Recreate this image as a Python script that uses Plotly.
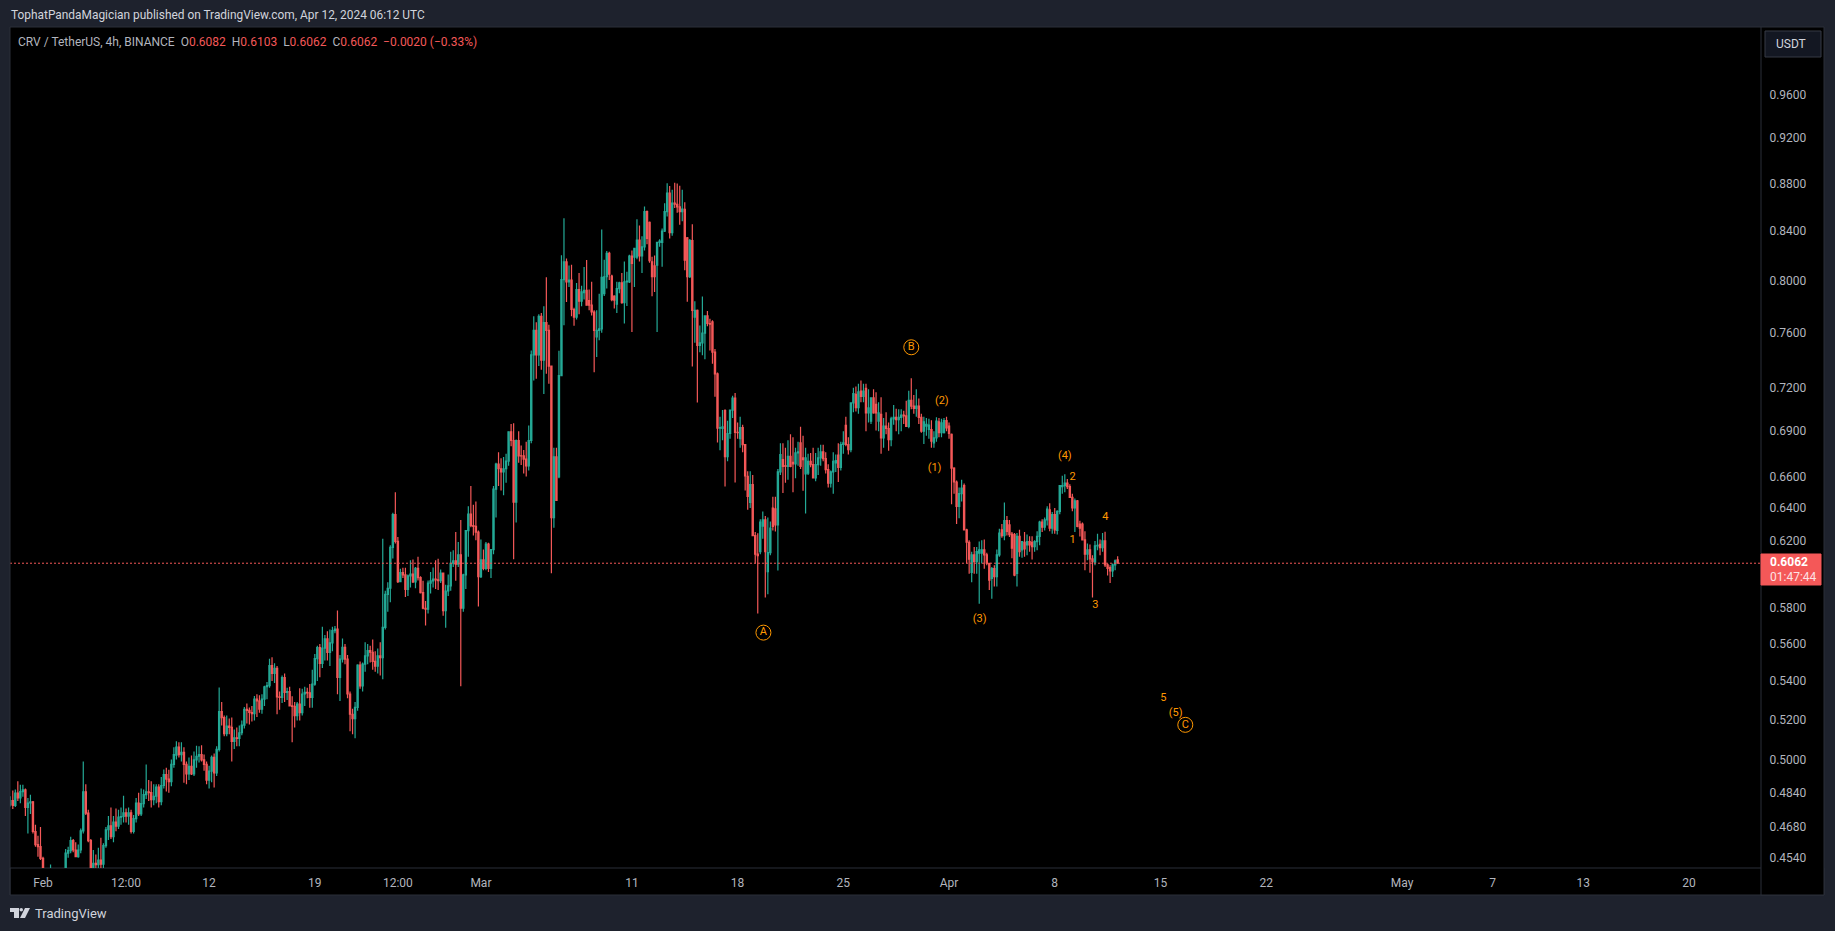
"""
CRV / USDT 4h candles with wave counts, TradingView dark look
"""
import pandas as pd
import plotly.graph_objects as go

# 4h candles, first one is 2024-01-29 20:00
opens = [
    0.4785, 0.4802, 0.4780, 0.4838, 0.4815, 0.4845, 0.4853, 0.4771, 0.4791, 0.4796,
    0.4659, 0.4599, 0.4590, 0.4538, 0.4470, 0.4445, 0.4455, 0.4475, 0.4460, 0.4465,
    0.4480, 0.4470, 0.4475, 0.4561, 0.4572, 0.4617, 0.4575, 0.4545, 0.4575, 0.4662,
    0.4844, 0.4744, 0.4617, 0.4480, 0.4516, 0.4510, 0.4530, 0.4512, 0.4595, 0.4667,
    0.4685, 0.4636, 0.4702, 0.4683, 0.4725, 0.4728, 0.4745, 0.4730, 0.4745, 0.4659,
    0.4718, 0.4791, 0.4740, 0.4788, 0.4831, 0.4844, 0.4840, 0.4807, 0.4823, 0.4867,
    0.4797, 0.4874, 0.4927, 0.4905, 0.4892, 0.4976, 0.5021, 0.5061, 0.5024, 0.5035,
    0.4976, 0.4930, 0.4966, 0.4930, 0.4998, 0.5016, 0.5024, 0.4998, 0.4976, 0.4900,
    0.4943, 0.5011, 0.4935, 0.5050, 0.5241, 0.5210, 0.5128, 0.5167, 0.5160, 0.5090,
    0.5108, 0.5105, 0.5133, 0.5172, 0.5252, 0.5247, 0.5236, 0.5230, 0.5305, 0.5296,
    0.5253, 0.5305, 0.5370, 0.5376, 0.5482, 0.5441, 0.5468, 0.5317, 0.5314, 0.5419,
    0.5340, 0.5345, 0.5270, 0.5268, 0.5220, 0.5279, 0.5235, 0.5332, 0.5340, 0.5338,
    0.5314, 0.5384, 0.5520, 0.5581, 0.5495, 0.5578, 0.5628, 0.5554, 0.5606, 0.5674,
    0.5683, 0.5419, 0.5518, 0.5582, 0.5518, 0.5332, 0.5227, 0.5205, 0.5262, 0.5485,
    0.5375, 0.5491, 0.5535, 0.5564, 0.5555, 0.5505, 0.5480, 0.5535, 0.5525, 0.5692,
    0.5880, 0.5915, 0.6157, 0.6358, 0.6193, 0.5954, 0.6007, 0.5993, 0.5909, 0.5987,
    0.5997, 0.5952, 0.6032, 0.5977, 0.5890, 0.5800, 0.5795, 0.5945, 0.5958, 0.5968,
    0.5964, 0.5960, 0.6003, 0.5787, 0.5899, 0.5929, 0.6062, 0.6076, 0.6056, 0.6112,
    0.5800, 0.5993, 0.6259, 0.6362, 0.6290, 0.6285, 0.6250, 0.5982, 0.6082, 0.6032,
    0.6177, 0.6032, 0.6143, 0.6519, 0.6681, 0.6651, 0.6630, 0.6651, 0.6701, 0.6897,
    0.6838, 0.6437, 0.6838, 0.6736, 0.6735, 0.6714, 0.6670, 0.6838, 0.7438, 0.7618,
    0.7438, 0.7724, 0.7398, 0.7676, 0.7618, 0.7356, 0.6340, 0.6729, 0.6598, 0.7288,
    0.8008, 0.8148, 0.7990, 0.8003, 0.7776, 0.7718, 0.7929, 0.7840, 0.7905, 0.7924,
    0.7845, 0.7809, 0.7757, 0.7570, 0.7618, 0.7630, 0.7898, 0.8030, 0.8216, 0.8035,
    0.7878, 0.7816, 0.7937, 0.7982, 0.7829, 0.7990, 0.7990, 0.8195, 0.8185, 0.8185,
    0.8324, 0.8195, 0.8269, 0.8560, 0.8470, 0.8148, 0.8117, 0.8122, 0.8306, 0.8306,
    0.8398, 0.8560, 0.8716, 0.8385, 0.8631, 0.8622, 0.8600, 0.8560, 0.8580, 0.8343,
    0.8030, 0.8320, 0.7718, 0.7770, 0.7506, 0.7526, 0.7598, 0.7727, 0.7670, 0.7683,
    0.7457, 0.7300, 0.6922, 0.6920, 0.7041, 0.6730, 0.6885, 0.7045, 0.7128, 0.6892,
    0.6850, 0.6925, 0.6810, 0.6601, 0.6435, 0.6548, 0.6229, 0.6116, 0.6132, 0.6287,
    0.6325, 0.6012, 0.6125, 0.6399, 0.6395, 0.6295, 0.6630, 0.6711, 0.6671, 0.6667,
    0.6733, 0.6693, 0.6682, 0.6755, 0.6822, 0.6722, 0.6617, 0.6623, 0.6700, 0.6678,
    0.6591, 0.6678, 0.6722, 0.6762, 0.6718, 0.6645, 0.6558, 0.6630, 0.6690, 0.6740,
    0.6660, 0.6811, 0.6940, 0.6811, 0.6777, 0.7095, 0.7155, 0.7062, 0.7178, 0.7141,
    0.7197, 0.7026, 0.6969, 0.7131, 0.7085, 0.6969, 0.7015, 0.6856, 0.6935, 0.6919,
    0.6844, 0.6985, 0.6995, 0.6980, 0.6995, 0.7010, 0.7005, 0.6934, 0.7112, 0.7073,
    0.7056, 0.7073, 0.6995, 0.6901, 0.6935, 0.6912, 0.6912, 0.6822, 0.6855, 0.6965,
    0.6890, 0.6890, 0.6973, 0.6935, 0.6879, 0.6655, 0.6565, 0.6410, 0.6490, 0.6542,
    0.6264, 0.6188, 0.6008, 0.6112, 0.6072, 0.6122, 0.6122, 0.6142, 0.6112, 0.6062,
    0.5972, 0.6030, 0.5982, 0.6112, 0.6264, 0.6229, 0.6321, 0.6294, 0.6238, 0.6234,
    0.6002, 0.6224, 0.6142, 0.6188, 0.6172, 0.6192, 0.6188, 0.6162, 0.6192, 0.6224,
    0.6311, 0.6280, 0.6325, 0.6388, 0.6274, 0.6358, 0.6260, 0.6378, 0.6535, 0.6542,
    0.6558, 0.6535, 0.6467, 0.6400, 0.6445, 0.6300, 0.6300, 0.6202, 0.6116, 0.6142,
    0.6088, 0.6068, 0.6166, 0.6176, 0.6156, 0.6196, 0.6052, 0.6036, 0.6016, 0.6052,
    0.6082,
]
highs = [
    0.4823, 0.4850, 0.4855, 0.4895, 0.4878, 0.4878, 0.4860, 0.4815, 0.4830, 0.4800,
    0.4690, 0.4640, 0.4680, 0.4545, 0.4480, 0.4470, 0.4510, 0.4488, 0.4480, 0.4495,
    0.4495, 0.4485, 0.4580, 0.4590, 0.4635, 0.4625, 0.4610, 0.4600, 0.4673, 0.4990,
    0.4880, 0.4760, 0.4625, 0.4575, 0.4555, 0.4585, 0.4630, 0.4605, 0.4680, 0.4730,
    0.4770, 0.4730, 0.4765, 0.4760, 0.4770, 0.4825, 0.4765, 0.4770, 0.4760, 0.4735,
    0.4815, 0.4840, 0.4860, 0.4855, 0.4975, 0.4900, 0.4895, 0.4880, 0.4880, 0.4880,
    0.4915, 0.4951, 0.4960, 0.4950, 0.5000, 0.5060, 0.5090, 0.5085, 0.5085, 0.5060,
    0.4990, 0.5010, 0.5020, 0.5040, 0.5068, 0.5065, 0.5070, 0.5025, 0.4990, 0.4970,
    0.5020, 0.5030, 0.5065, 0.5366, 0.5290, 0.5220, 0.5220, 0.5205, 0.5210, 0.5150,
    0.5160, 0.5170, 0.5195, 0.5265, 0.5282, 0.5262, 0.5270, 0.5322, 0.5330, 0.5325,
    0.5330, 0.5375, 0.5395, 0.5520, 0.5528, 0.5495, 0.5480, 0.5345, 0.5430, 0.5440,
    0.5365, 0.5370, 0.5320, 0.5290, 0.5290, 0.5362, 0.5360, 0.5370, 0.5365, 0.5385,
    0.5460, 0.5545, 0.5590, 0.5600, 0.5695, 0.5650, 0.5670, 0.5680, 0.5695, 0.5700,
    0.5787, 0.5540, 0.5630, 0.5600, 0.5540, 0.5345, 0.5255, 0.5290, 0.5490, 0.5505,
    0.5500, 0.5610, 0.5600, 0.5590, 0.5625, 0.5560, 0.5575, 0.5610, 0.6210, 0.5900,
    0.5950, 0.6170, 0.6370, 0.6500, 0.6220, 0.6030, 0.6035, 0.6035, 0.5995, 0.6080,
    0.6085, 0.6040, 0.6100, 0.5985, 0.5958, 0.5842, 0.5960, 0.6010, 0.6036, 0.6080,
    0.6088, 0.6025, 0.6000, 0.5935, 0.5995, 0.6130, 0.6140, 0.6250, 0.6190, 0.6325,
    0.6000, 0.6260, 0.6410, 0.6540, 0.6420, 0.6440, 0.6260, 0.6205, 0.6145, 0.6190,
    0.6185, 0.6145, 0.6540, 0.6690, 0.6760, 0.6720, 0.6728, 0.6750, 0.6897, 0.6950,
    0.6955, 0.6845, 0.6900, 0.6805, 0.6775, 0.6830, 0.6940, 0.7470, 0.7724, 0.7680,
    0.7740, 0.7750, 0.7800, 0.8025, 0.7660, 0.7356, 0.6790, 0.6790, 0.7467, 0.8202,
    0.8504, 0.8175, 0.8120, 0.8125, 0.7790, 0.7980, 0.8060, 0.7960, 0.8108, 0.8162,
    0.7930, 0.7990, 0.7770, 0.7770, 0.7898, 0.8412, 0.8165, 0.8235, 0.8230, 0.8045,
    0.7885, 0.7990, 0.7990, 0.8060, 0.8150, 0.8070, 0.8205, 0.8240, 0.8256, 0.8496,
    0.8445, 0.8355, 0.8602, 0.8570, 0.8478, 0.8190, 0.8200, 0.8310, 0.8330, 0.8420,
    0.8630, 0.8802, 0.8778, 0.8745, 0.8805, 0.8800, 0.8780, 0.8745, 0.8640, 0.8350,
    0.8333, 0.8455, 0.7840, 0.7775, 0.7655, 0.7876, 0.7730, 0.7765, 0.7705, 0.7695,
    0.7480, 0.7310, 0.6999, 0.7045, 0.7050, 0.6972, 0.7045, 0.7145, 0.7165, 0.6960,
    0.7000, 0.6945, 0.6815, 0.6634, 0.6634, 0.6610, 0.6250, 0.6243, 0.6330, 0.6378,
    0.6350, 0.6340, 0.6315, 0.6470, 0.6470, 0.6650, 0.6820, 0.6820, 0.6790, 0.6840,
    0.6880, 0.6860, 0.6790, 0.6830, 0.6930, 0.6870, 0.6790, 0.6750, 0.6755, 0.6790,
    0.6755, 0.6790, 0.6810, 0.6810, 0.6760, 0.6680, 0.6640, 0.6760, 0.6745, 0.6820,
    0.6830, 0.6900, 0.7000, 0.6860, 0.7100, 0.7202, 0.7210, 0.7230, 0.7253, 0.7230,
    0.7230, 0.7190, 0.7125, 0.7190, 0.7170, 0.7100, 0.7135, 0.6990, 0.7030, 0.6960,
    0.7000, 0.7080, 0.7055, 0.7050, 0.7050, 0.7040, 0.7110, 0.7180, 0.7268, 0.7150,
    0.7190, 0.7125, 0.7020, 0.7000, 0.6990, 0.6985, 0.6975, 0.6900, 0.6995, 0.6990,
    0.6985, 0.6990, 0.7000, 0.6960, 0.6885, 0.6660, 0.6575, 0.6530, 0.6580, 0.6555,
    0.6270, 0.6200, 0.6130, 0.6160, 0.6160, 0.6192, 0.6200, 0.6205, 0.6125, 0.6065,
    0.6040, 0.6050, 0.6145, 0.6270, 0.6300, 0.6435, 0.6350, 0.6325, 0.6250, 0.6244,
    0.6245, 0.6265, 0.6190, 0.6250, 0.6235, 0.6225, 0.6225, 0.6200, 0.6255, 0.6320,
    0.6330, 0.6340, 0.6410, 0.6430, 0.6375, 0.6400, 0.6385, 0.6545, 0.6605, 0.6615,
    0.6585, 0.6550, 0.6490, 0.6460, 0.6450, 0.6320, 0.6310, 0.6255, 0.6180, 0.6175,
    0.6110, 0.6195, 0.6240, 0.6205, 0.6245, 0.6252, 0.6060, 0.6050, 0.6060, 0.6085,
    0.6103,
]
lows = [
    0.4775, 0.4763, 0.4772, 0.4800, 0.4790, 0.4820, 0.4730, 0.4650, 0.4740, 0.4650,
    0.4590, 0.4545, 0.4530, 0.4440, 0.4425, 0.4420, 0.4440, 0.4440, 0.4435, 0.4445,
    0.4450, 0.4440, 0.4465, 0.4540, 0.4560, 0.4565, 0.4545, 0.4540, 0.4560, 0.4650,
    0.4735, 0.4610, 0.4460, 0.4470, 0.4490, 0.4490, 0.4490, 0.4490, 0.4585, 0.4620,
    0.4625, 0.4610, 0.4660, 0.4670, 0.4690, 0.4700, 0.4700, 0.4690, 0.4650, 0.4650,
    0.4700, 0.4730, 0.4730, 0.4770, 0.4810, 0.4800, 0.4770, 0.4780, 0.4790, 0.4770,
    0.4780, 0.4860, 0.4845, 0.4840, 0.4870, 0.4960, 0.5000, 0.5010, 0.4990, 0.4887,
    0.4880, 0.4900, 0.4925, 0.4920, 0.4960, 0.4985, 0.4990, 0.4945, 0.4880, 0.4860,
    0.4890, 0.4865, 0.4920, 0.5040, 0.5170, 0.5115, 0.5115, 0.5125, 0.4990, 0.5052,
    0.5065, 0.5065, 0.5120, 0.5155, 0.5180, 0.5175, 0.5190, 0.5195, 0.5213, 0.5235,
    0.5230, 0.5270, 0.5305, 0.5365, 0.5400, 0.5390, 0.5227, 0.5250, 0.5285, 0.5290,
    0.5300, 0.5270, 0.5085, 0.5160, 0.5195, 0.5195, 0.5220, 0.5270, 0.5310, 0.5260,
    0.5260, 0.5375, 0.5400, 0.5420, 0.5470, 0.5510, 0.5510, 0.5480, 0.5560, 0.5660,
    0.5330, 0.5296, 0.5500, 0.5490, 0.5310, 0.5140, 0.5125, 0.5105, 0.5245, 0.5360,
    0.5345, 0.5450, 0.5490, 0.5500, 0.5460, 0.5450, 0.5440, 0.5430, 0.5410, 0.5680,
    0.5780, 0.5835, 0.6090, 0.6180, 0.5945, 0.5950, 0.5975, 0.5865, 0.5870, 0.5920,
    0.5945, 0.5915, 0.5960, 0.5885, 0.5795, 0.5702, 0.5770, 0.5885, 0.5920, 0.5910,
    0.5905, 0.5945, 0.5758, 0.5690, 0.5870, 0.5900, 0.6040, 0.5958, 0.6040, 0.5372,
    0.5780, 0.5910, 0.6100, 0.6280, 0.6230, 0.6200, 0.5810, 0.5975, 0.6020, 0.6020,
    0.6010, 0.5975, 0.6115, 0.6340, 0.6540, 0.6510, 0.6480, 0.6560, 0.6670, 0.6800,
    0.6086, 0.6309, 0.6690, 0.6675, 0.6620, 0.6600, 0.6640, 0.6820, 0.7252, 0.7265,
    0.7356, 0.7330, 0.7157, 0.7300, 0.7229, 0.6003, 0.6277, 0.6445, 0.6590, 0.7656,
    0.7656, 0.7834, 0.7950, 0.7724, 0.7652, 0.7700, 0.7740, 0.7800, 0.7852, 0.7810,
    0.7770, 0.7730, 0.7312, 0.7421, 0.7545, 0.7600, 0.7880, 0.7937, 0.8004, 0.7840,
    0.7783, 0.7750, 0.7900, 0.7820, 0.7670, 0.7802, 0.7980, 0.7606, 0.7950, 0.8170,
    0.8150, 0.8060, 0.8240, 0.8290, 0.8140, 0.7878, 0.7911, 0.7606, 0.8270, 0.8110,
    0.8390, 0.8520, 0.8338, 0.8360, 0.8590, 0.8550, 0.8450, 0.8480, 0.8082, 0.7835,
    0.8020, 0.7353, 0.7526, 0.7097, 0.7457, 0.7435, 0.7405, 0.7650, 0.7470, 0.7372,
    0.7138, 0.6825, 0.6772, 0.6840, 0.6536, 0.6700, 0.6850, 0.6990, 0.6562, 0.6850,
    0.6790, 0.6760, 0.6510, 0.6388, 0.6400, 0.6229, 0.6060, 0.5770, 0.6115, 0.6210,
    0.5862, 0.5880, 0.6110, 0.6260, 0.6253, 0.6019, 0.6610, 0.6494, 0.6560, 0.6580,
    0.6660, 0.6500, 0.6590, 0.6670, 0.6650, 0.6509, 0.6365, 0.6610, 0.6660, 0.6590,
    0.6570, 0.6610, 0.6670, 0.6700, 0.6620, 0.6530, 0.6530, 0.6490, 0.6630, 0.6565,
    0.6640, 0.6750, 0.6800, 0.6745, 0.6760, 0.7030, 0.7035, 0.7020, 0.7100, 0.7100,
    0.6901, 0.6960, 0.6950, 0.7020, 0.6905, 0.6900, 0.6750, 0.6790, 0.6880, 0.6770,
    0.6800, 0.6945, 0.6900, 0.6880, 0.6900, 0.6950, 0.6960, 0.6920, 0.7050, 0.7020,
    0.7000, 0.6950, 0.6890, 0.6815, 0.6870, 0.6850, 0.6790, 0.6790, 0.6830, 0.6860,
    0.6860, 0.6885, 0.6900, 0.6850, 0.6424, 0.6490, 0.6300, 0.6336, 0.6440, 0.6264,
    0.6060, 0.6000, 0.5950, 0.6000, 0.6000, 0.5826, 0.6060, 0.6030, 0.6050, 0.5905,
    0.5855, 0.5925, 0.5925, 0.6100, 0.6215, 0.6200, 0.6230, 0.6220, 0.6092, 0.5985,
    0.5925, 0.6100, 0.6095, 0.6100, 0.6110, 0.6130, 0.6085, 0.6130, 0.6140, 0.6170,
    0.6250, 0.6260, 0.6290, 0.6255, 0.6240, 0.6240, 0.6235, 0.6360, 0.6490, 0.6500,
    0.6520, 0.6467, 0.6380, 0.6250, 0.6280, 0.6223, 0.6200, 0.6020, 0.6080, 0.6005,
    0.5862, 0.6050, 0.6140, 0.6110, 0.6130, 0.6040, 0.5990, 0.5945, 0.5980, 0.6020,
    0.6062,
]
closes = [
    0.4802, 0.4780, 0.4838, 0.4815, 0.4845, 0.4853, 0.4771, 0.4791, 0.4796, 0.4659,
    0.4599, 0.4590, 0.4538, 0.4470, 0.4445, 0.4455, 0.4475, 0.4460, 0.4465, 0.4480,
    0.4470, 0.4475, 0.4561, 0.4572, 0.4617, 0.4575, 0.4545, 0.4575, 0.4662, 0.4844,
    0.4744, 0.4617, 0.4480, 0.4516, 0.4510, 0.4530, 0.4512, 0.4595, 0.4667, 0.4685,
    0.4636, 0.4702, 0.4683, 0.4725, 0.4728, 0.4745, 0.4730, 0.4745, 0.4659, 0.4718,
    0.4791, 0.4740, 0.4788, 0.4831, 0.4844, 0.4840, 0.4807, 0.4823, 0.4867, 0.4797,
    0.4874, 0.4927, 0.4905, 0.4892, 0.4976, 0.5024, 0.5061, 0.5024, 0.5035, 0.4976,
    0.4930, 0.4966, 0.4930, 0.4998, 0.5016, 0.5024, 0.4998, 0.4976, 0.4900, 0.4943,
    0.5011, 0.4935, 0.5050, 0.5241, 0.5210, 0.5128, 0.5167, 0.5160, 0.5090, 0.5108,
    0.5105, 0.5133, 0.5172, 0.5252, 0.5247, 0.5236, 0.5230, 0.5305, 0.5296, 0.5253,
    0.5305, 0.5370, 0.5376, 0.5482, 0.5441, 0.5468, 0.5317, 0.5314, 0.5419, 0.5340,
    0.5345, 0.5270, 0.5268, 0.5220, 0.5279, 0.5235, 0.5332, 0.5340, 0.5338, 0.5314,
    0.5384, 0.5520, 0.5581, 0.5495, 0.5578, 0.5628, 0.5554, 0.5606, 0.5674, 0.5683,
    0.5419, 0.5518, 0.5582, 0.5518, 0.5332, 0.5227, 0.5205, 0.5262, 0.5485, 0.5375,
    0.5491, 0.5535, 0.5564, 0.5555, 0.5505, 0.5480, 0.5535, 0.5525, 0.5692, 0.5880,
    0.5915, 0.6157, 0.6358, 0.6193, 0.5954, 0.6007, 0.5993, 0.5909, 0.5987, 0.5997,
    0.5952, 0.6032, 0.5977, 0.5890, 0.5800, 0.5795, 0.5945, 0.5958, 0.5968, 0.5964,
    0.5960, 0.6003, 0.5787, 0.5899, 0.5929, 0.6062, 0.6076, 0.6056, 0.6112, 0.5800,
    0.5993, 0.6259, 0.6362, 0.6290, 0.6285, 0.6250, 0.5982, 0.6082, 0.6032, 0.6177,
    0.6032, 0.6143, 0.6519, 0.6681, 0.6651, 0.6630, 0.6651, 0.6701, 0.6897, 0.6838,
    0.6437, 0.6838, 0.6736, 0.6735, 0.6714, 0.6670, 0.6838, 0.7438, 0.7618, 0.7438,
    0.7724, 0.7398, 0.7676, 0.7618, 0.7356, 0.6340, 0.6729, 0.6447, 0.7288, 0.8008,
    0.8148, 0.7990, 0.8003, 0.7776, 0.7718, 0.7929, 0.7840, 0.7912, 0.7924, 0.7809,
    0.7809, 0.7757, 0.7618, 0.7618, 0.7630, 0.8025, 0.8030, 0.8216, 0.8050, 0.7852,
    0.7847, 0.7937, 0.7982, 0.7829, 0.7990, 0.7995, 0.8195, 0.8135, 0.8256, 0.8324,
    0.8195, 0.8269, 0.8560, 0.8337, 0.8158, 0.8030, 0.8030, 0.8306, 0.8315, 0.8398,
    0.8560, 0.8716, 0.8385, 0.8631, 0.8622, 0.8600, 0.8560, 0.8582, 0.8161, 0.8030,
    0.8320, 0.7770, 0.7770, 0.7506, 0.7526, 0.7598, 0.7727, 0.7670, 0.7665, 0.7457,
    0.7300, 0.6922, 0.6925, 0.6930, 0.6730, 0.6885, 0.7045, 0.7128, 0.6892, 0.6890,
    0.6925, 0.6810, 0.6605, 0.6473, 0.6548, 0.6229, 0.6116, 0.6108, 0.6311, 0.6325,
    0.6132, 0.6125, 0.6274, 0.6285, 0.6295, 0.6630, 0.6744, 0.6667, 0.6667, 0.6733,
    0.6667, 0.6682, 0.6755, 0.6762, 0.6667, 0.6711, 0.6722, 0.6700, 0.6678, 0.6591,
    0.6678, 0.6722, 0.6762, 0.6718, 0.6645, 0.6558, 0.6630, 0.6700, 0.6704, 0.6660,
    0.6811, 0.6822, 0.6811, 0.6777, 0.7095, 0.7160, 0.7062, 0.7172, 0.7141, 0.7178,
    0.7026, 0.7060, 0.7131, 0.7026, 0.7026, 0.7026, 0.6856, 0.6935, 0.6919, 0.6844,
    0.6985, 0.6995, 0.6980, 0.6995, 0.7010, 0.7005, 0.6934, 0.7112, 0.7073, 0.7056,
    0.7073, 0.6995, 0.6901, 0.6965, 0.6947, 0.6942, 0.6833, 0.6855, 0.6969, 0.6890,
    0.6958, 0.6973, 0.6923, 0.6885, 0.6655, 0.6565, 0.6410, 0.6490, 0.6526, 0.6264,
    0.6188, 0.6086, 0.6112, 0.6072, 0.6132, 0.6142, 0.6142, 0.6112, 0.6062, 0.5962,
    0.6030, 0.5982, 0.6112, 0.6244, 0.6229, 0.6321, 0.6254, 0.6234, 0.6152, 0.5992,
    0.6224, 0.6132, 0.6192, 0.6148, 0.6192, 0.6172, 0.6162, 0.6192, 0.6224, 0.6311,
    0.6280, 0.6325, 0.6392, 0.6274, 0.6358, 0.6264, 0.6378, 0.6542, 0.6542, 0.6558,
    0.6535, 0.6467, 0.6400, 0.6445, 0.6285, 0.6274, 0.6202, 0.6116, 0.6142, 0.6088,
    0.6072, 0.6166, 0.6170, 0.6156, 0.6196, 0.6052, 0.6032, 0.6016, 0.6052, 0.6076,
    0.6062,
]
candle_times = pd.date_range("2024-01-29 20:00", periods=len(closes), freq="4h")

# axes
price_ticks = [0.96, 0.92, 0.88, 0.84, 0.80, 0.76, 0.72, 0.69, 0.66, 0.64, 0.62,
               0.58, 0.56, 0.54, 0.52, 0.50, 0.484, 0.468, 0.454]
price_labels = [f"{p:.4f}" for p in price_ticks]
time_ticks = ["2024-02-01", "2024-02-06 12:00", "2024-02-12", "2024-02-19", "2024-02-24 12:00",
              "2024-03-01", "2024-03-11", "2024-03-18", "2024-03-25", "2024-04-01",
              "2024-04-08", "2024-04-15", "2024-04-22", "2024-05-01", "2024-05-07",
              "2024-05-13", "2024-05-20"]
time_labels = ["Feb", "12:00", "12", "19", "12:00", "Mar", "11", "18", "25", "Apr",
               "8", "15", "22", "May", "7", "13", "20"]
time_start = "2024-01-29 19:33"
time_end = "2024-05-24 18:30"
last_price = 0.6062

# wave counts
circle_labels = ["A", "B", "C"]
circle_times = ["2024-03-19 17:00", "2024-03-29 12:00", "2024-04-16 15:30"]
circle_prices = [0.5663, 0.7493, 0.5173]
wave_labels = ["(1)", "(2)", "(3)", "(4)", "(5)", "1", "2", "3", "4", "5"]
wave_times = ["2024-03-31 01:00", "2024-03-31 12:30", "2024-04-03 00:45", "2024-04-08 16:00",
              "2024-04-16 00:15", "2024-04-09 04:30", "2024-04-09 04:30", "2024-04-10 16:30",
              "2024-04-11 08:30", "2024-04-15 04:30"]
wave_prices = [0.6654, 0.7105, 0.5736, 0.6731, 0.5233, 0.6200, 0.6596, 0.5816, 0.6343, 0.5310]

BG = "#1e222d"
BORDER = "#2a2e39"
GREEN = "#24a996"
RED = "#f45858"
ORANGE = "#ff9800"
TEXT = "#b2b5be"
FONT = "Roboto"

# pane corners in page pixels
LEFT, RIGHT, TOP, BOTTOM = 10, 1761, 27, 868


def px(x):
    return (x - LEFT) / (RIGHT - LEFT)


def py(y):
    return 1 - (y - TOP) / (BOTTOM - TOP)


def box(x0, y0, x1, y1, fill, line=None, layer="below"):
    return dict(type="rect", xref="paper", yref="paper", x0=px(x0), x1=px(x1), y0=py(y0), y1=py(y1),
                fillcolor=fill, line=dict(color=line or fill, width=1), layer=layer)


def label(x, y, text, color=TEXT, size=12, anchor="left"):
    return dict(xref="paper", yref="paper", x=px(x), y=py(y), text=text, showarrow=False,
                xanchor=anchor, yanchor="middle", font=dict(family=FONT, size=size, color=color))


fig = go.Figure()

fig.add_trace(go.Scatter(
    x=[time_start, time_end], y=[last_price, last_price], mode="lines",
    line=dict(color=RED, width=1, dash="2px 2px"), hoverinfo="skip"
))
fig.add_trace(go.Candlestick(
    x=candle_times, open=opens, high=highs, low=lows, close=closes,
    increasing=dict(line=dict(color=GREEN, width=1.2), fillcolor=GREEN),
    decreasing=dict(line=dict(color=RED, width=1.2), fillcolor=RED),
    whiskerwidth=0
))
fig.add_trace(go.Scatter(
    x=circle_times, y=circle_prices, text=circle_labels, mode="markers+text",
    textposition="middle center", textfont=dict(family=FONT, size=11, color=ORANGE),
    marker=dict(symbol="circle-open", size=15, color=ORANGE, line=dict(color=ORANGE, width=1)),
    hoverinfo="skip"
))
fig.add_trace(go.Scatter(
    x=wave_times, y=wave_prices, text=wave_labels, mode="text",
    textposition="middle center", textfont=dict(family=FONT, size=11, color=ORANGE),
    hoverinfo="skip"
))

red_span = '<span style="color:%s">%%s</span>' % RED
legend_text = (
    "CRV / TetherUS, 4h, BINANCE\u00a0\u00a0"
    "O" + red_span % "0.6082" + "\u00a0\u00a0H" + red_span % "0.6103"
    + "\u00a0\u00a0L" + red_span % "0.6062" + "\u00a0\u00a0C" + red_span % "0.6062"
    + "\u00a0\u00a0" + red_span % "\u22120.0020 (\u22120.33%)"
)

fig.update_layout(
    width=1835,
    height=931,
    margin=dict(l=LEFT, r=1835 - RIGHT, t=TOP, b=931 - BOTTOM),
    paper_bgcolor=BG,
    plot_bgcolor="#000000",
    showlegend=False,
    font=dict(family=FONT, size=12, color=TEXT),
    xaxis=dict(
        type="date", range=[time_start, time_end], rangeslider=dict(visible=False),
        tickmode="array", tickvals=time_ticks, ticktext=time_labels,
        showgrid=False, zeroline=False, ticks="outside", ticklen=4, tickcolor="rgba(0,0,0,0)",
        tickangle=0, tickfont=dict(family=FONT, size=12, color=TEXT)
    ),
    yaxis=dict(
        type="log", range=[-0.34727, 0.01115], side="right",
        tickmode="array", tickvals=price_ticks, ticktext=price_labels,
        showgrid=False, zeroline=False, ticks="outside", ticklen=5, tickcolor="rgba(0,0,0,0)",
        tickfont=dict(family=FONT, size=12, color=TEXT)
    ),
    shapes=[
        # axis strips, the pane itself is the plot background
        box(LEFT, BOTTOM, 1824, 895, "#000000", BORDER),
        box(RIGHT, TOP, 1824, 895, "#000000", BORDER),
        dict(type="line", xref="paper", yref="paper", x0=px(LEFT), x1=px(RIGHT), y0=py(TOP), y1=py(TOP),
             line=dict(color=BORDER, width=1)),
        dict(type="line", xref="paper", yref="paper", x0=px(LEFT), x1=px(LEFT), y0=py(TOP), y1=py(895),
             line=dict(color=BORDER, width=1)),
        # current price tag and currency button
        box(RIGHT, 554, 1821, 585, RED, layer="above"),
        box(1765, 31, 1821, 57, "#131722", "#363a45", layer="above"),
        # TradingView logo
        dict(type="path", xref="paper", yref="paper", fillcolor="#d1d4dc", line=dict(width=0),
             path=f"M {px(10)} {py(908)} L {px(19)} {py(908)} L {px(19)} {py(918)} L {px(14)} {py(918)} "
                  f"L {px(14)} {py(912)} L {px(10)} {py(912)} Z"),
        dict(type="circle", xref="paper", yref="paper", fillcolor="#d1d4dc", line=dict(width=0),
             x0=px(19.5), x1=px(23), y0=py(908), y1=py(911.5)),
        dict(type="path", xref="paper", yref="paper", fillcolor="#d1d4dc", line=dict(width=0),
             path=f"M {px(25)} {py(908)} L {px(30)} {py(908)} L {px(25)} {py(918)} L {px(20)} {py(918)} Z"),
    ],
    annotations=[
        label(9, 15, "TophatPandaMagician published on TradingView.com, Apr 12, 2024 06:12 UTC", "#d1d4dc", size=11.9),
        label(16, 42, legend_text),
        label(1774, 44, "USDT", "#d1d4dc"),
        label(1768, 562, "<b>0.6062</b>", "#ffffff"),
        label(1768, 577, "01:47:44", "#fde2e4"),
        label(33, 913, "TradingView", "#d1d4dc", size=13),
    ],
)

fig.write_html(
    "out.html",
    config={"displayModeBar": False},
    post_script="document.body.style.margin='0';document.body.style.background='%s';" % BG,
)
